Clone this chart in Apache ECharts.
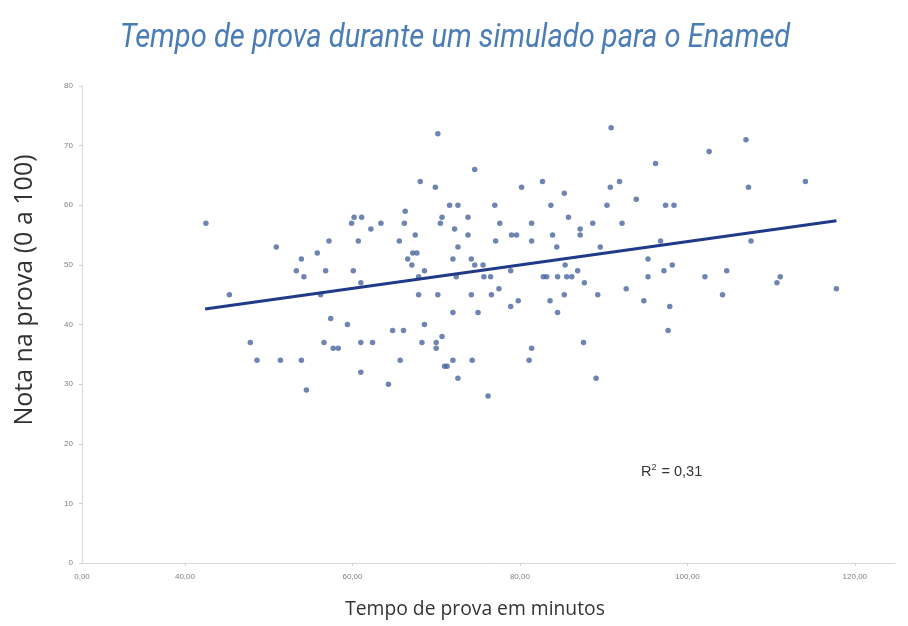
<!DOCTYPE html>
<html>
<head>
<meta charset="utf-8">
<title>Tempo de prova durante um simulado para o Enamed</title>
<script src="https://cdn.jsdelivr.net/npm/echarts@6/dist/echarts.min.js"></script>
<style>
  html, body { margin: 0; padding: 0; background: #fff; }
  #chart { width: 908px; height: 626px; }
</style>
</head>
<body>
<div id="chart"></div>
<script>
// tempo de prova (minutos) e nota de cada aluno
const tempoMin = [
  42.5, 45.3, 47.8, 48.6, 50.9, 51.4, 53.3, 53.9, 53.9, 54.2,
  54.5, 55.8, 56.2, 56.6, 56.8, 57.2, 57.4, 57.7, 58.3, 59.4,
  59.9, 60.2, 61.1, 60.1, 60.7, 61.0, 61.0, 61.0, 62.2, 62.4,
  63.4, 64.3, 64.8, 65.6, 65.7, 66.1, 66.3, 66.2, 66.6, 67.1,
  67.2, 67.7, 67.5, 67.9, 67.9, 68.1, 68.3, 68.6, 68.6, 69.9,
  70.0, 70.0, 70.2, 70.2, 70.7, 70.5, 70.7, 71.0, 71.3, 71.6,
  72.6, 72.0, 72.0, 72.0, 72.2, 72.4, 72.6, 72.6, 73.8, 73.8,
  74.2, 74.2, 74.3, 74.6, 75.6, 74.6, 75.0, 75.7, 76.5, 76.2,
  76.6, 77.0, 77.1, 77.5, 77.6, 78.9, 78.9, 79.0, 79.6, 79.8,
  80.2, 81.1, 81.4, 81.4, 81.4, 82.7, 82.8, 83.2, 83.6, 83.7,
  83.9, 84.4, 84.5, 84.5, 85.3, 85.3, 85.4, 85.6, 86.2, 85.8,
  86.9, 87.2, 87.2, 87.6, 87.7, 88.7, 89.1, 89.3, 89.6, 90.4,
  90.8, 90.9, 91.9, 92.2, 92.7, 93.9, 94.8, 95.3, 95.3, 96.2,
  96.8, 97.2, 97.4, 98.4, 97.7, 97.9, 98.2, 102.1, 102.6, 104.2,
  104.7, 107.0, 107.3, 107.6, 110.7, 111.1, 114.1, 117.8
];
const notaProva = [
  57, 45, 37, 34, 53, 34, 49, 51, 34, 48,
  29, 52, 45, 37, 49, 54, 41, 36, 36, 40,
  57, 58, 58, 49, 54, 47, 37, 32, 56, 37,
  57, 30, 39, 54, 34, 39, 59, 57, 51, 50,
  52, 52, 55, 48, 45, 64, 37, 49, 40, 63,
  37, 36, 72, 45, 58, 57, 38, 33, 33, 60,
  60, 51, 42, 34, 56, 48, 53, 31, 55, 58,
  51, 45, 34, 50, 50, 66, 42, 48, 48, 28,
  45, 60, 54, 46, 57, 49, 43, 55, 55, 44,
  63, 34, 57, 54, 36, 64, 48, 48, 44, 60,
  55, 53, 42, 48, 62, 45, 50, 48, 48, 58,
  49, 56, 55, 37, 47, 57, 31, 45, 53, 60,
  63, 73, 64, 57, 46, 61, 44, 51, 48, 67,
  54, 49, 60, 60, 39, 43, 50, 48, 69, 45,
  49, 71, 63, 54, 47, 48, 64, 46
];

// linha de tendência (extremos)
const trendX = [42.4, 117.8];
const trendY = [42.6, 57.4];

// rótulos do eixo x como aparecem no original
const xTickValues = [27.7, 40, 60, 80, 100, 120];
const xTickLabels = ['0,00', '40,00', '60,00', '80,00', '100,00', '120,00'];
const yTickValues = [0, 10, 20, 30, 40, 50, 60, 70, 80];

const pontos = tempoMin.map((t, i) => [t, notaProva[i]]);
const tendencia = trendX.map((t, i) => [t, trendY[i]]);

const chart = echarts.init(document.getElementById('chart'));

chart.setOption({
  backgroundColor: '#ffffff',
  animation: false,
  grid: {
    left: 82,
    right: 13,
    top: 86,
    bottom: 63
  },
  xAxis: {
    type: 'value',
    min: 27.7,
    max: 124.8,
    axisLine: { show: true, lineStyle: { color: '#d9d9d9', width: 1 } },
    axisTick: {
      show: true,
      length: 3,
      customValues: xTickValues.slice(1),
      lineStyle: { color: '#cfcfcf' }
    },
    axisLabel: {
      customValues: xTickValues,
      formatter: (v) => {
        const i = xTickValues.indexOf(v);
        return i >= 0 ? xTickLabels[i] : '';
      },
      fontSize: 8,
      color: '#808080',
      margin: 10
    },
    splitLine: { show: false }
  },
  yAxis: {
    type: 'value',
    min: 0,
    max: 80,
    interval: 10,
    axisLine: { show: true, lineStyle: { color: '#d9d9d9', width: 1 } },
    axisTick: { show: true, length: 3, lineStyle: { color: '#cfcfcf' } },
    axisLabel: {
      customValues: yTickValues,
      fontSize: 8,
      color: '#808080',
      margin: 9
    },
    splitLine: { show: false }
  },
  graphic: [
    {
      // título em fonte condensada itálica
      type: 'text',
      x: 455,
      y: 38,
      scaleX: 0.855,
      style: {
        text: 'Tempo de prova durante um simulado para o Enamed',
        fontFamily: 'Roboto',
        fontStyle: 'italic',
        fontSize: 34,
        fill: '#4a7db5',
        align: 'center',
        verticalAlign: 'middle'
      }
    },
    {
      type: 'text',
      x: 475,
      y: 610,
      style: {
        text: 'Tempo de prova em minutos',
        fontFamily: 'Open Sans',
        fontSize: 19.3,
        fill: '#333',
        align: 'center',
        verticalAlign: 'middle'
      }
    },
    {
      type: 'text',
      x: 25,
      y: 290,
      rotation: Math.PI / 2,
      style: {
        text: 'Nota na prova (0 a 100)',
        fontFamily: 'Open Sans',
        fontSize: 25,
        fill: '#333',
        align: 'center',
        verticalAlign: 'middle'
      }
    },
    {
      type: 'text',
      x: 641,
      y: 472,
      style: {
        text: '{r|R}{s|2}{r| = 0,31}',
        verticalAlign: 'middle',
        rich: {
          r: { fontFamily: 'Liberation Sans', fontSize: 14.5, fill: '#333', color: '#333' },
          s: { fontFamily: 'Liberation Sans', fontSize: 9, fill: '#333', color: '#333', verticalAlign: 'top', padding: [0, 1, 8, 0] }
        }
      }
    }
  ],
  series: [
    {
      type: 'scatter',
      data: pontos,
      symbol: 'circle',
      symbolSize: 5.5,
      itemStyle: { color: '#4a65a0' }
    },
    {
      type: 'line',
      data: tendencia,
      symbol: 'none',
      lineStyle: { color: '#1f3a88', width: 3 },
      z: 3
    }
  ]
});
</script>
</body>
</html>
